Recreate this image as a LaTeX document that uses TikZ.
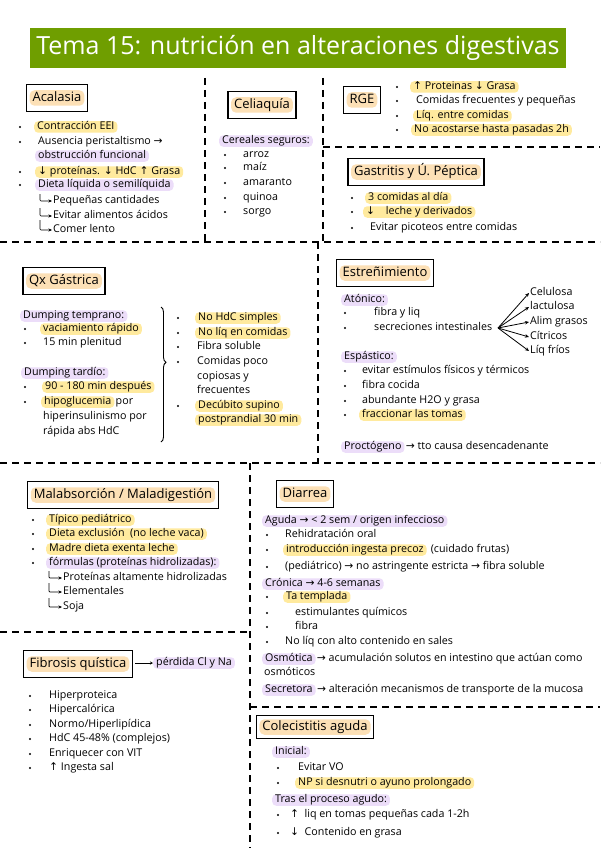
\documentclass[tikz,border=0pt]{standalone}
\usepackage{fontspec}
\setmainfont{Open Sans}
\newfontfamily\symf{DejaVu Sans}
\usetikzlibrary{arrows.meta,fit,decorations.pathreplacing}
\definecolor{bannergreen}{HTML}{6F9E00}
\definecolor{hlY}{HTML}{FFEA9E}
\definecolor{hlP}{HTML}{ECDDF9}
\definecolor{hlO}{HTML}{FCE0B6}
\newcommand\AUp{{\symf ↑}}
\newcommand\ADn{{\symf ↓}}
\newcommand\ARt{{\symf →}}
\tikzset{
 txt/.style={anchor=west, inner xsep=1pt, inner ysep=0.5pt, text height=8pt, text depth=2.5pt, font=\fontsize{10.7}{12}\selectfont},
 hy/.style={txt, fill=hlY, rounded corners=4pt, inner xsep=3pt},
 hp/.style={txt, fill=hlP, rounded corners=4pt, inner xsep=3pt},
 ho/.style={anchor=center, fill=hlO, rounded corners=5pt, inner xsep=3pt, inner ysep=1.5pt, text height=9.5pt, text depth=3pt, font=\fontsize{13}{15}\selectfont},
 tbox/.style={draw, line width=1.4pt, inner xsep=3pt, inner ysep=5.5pt},
 bul/.style={circle, fill=black, inner sep=0pt, minimum size=2.4pt},
 sepline/.style={line width=2.2pt, dash pattern=on 7pt off 5pt},
 hook/.style={-{Stealth[length=3.5pt,width=3pt]}, line width=0.7pt, rounded corners=1pt},
 fanarrow/.style={-{Stealth[length=4pt,width=3.5pt]}, line width=0.8pt},
}
\begin{document}
\begin{tikzpicture}[x=1pt,y=-1pt]
\useasboundingbox (0,0) rectangle (600,848);
\fill[white] (0,0) rectangle (600,848);
% banner
\node[fill=bannergreen, minimum width=536pt, minimum height=40pt, text=white, inner sep=0pt, font=\fontsize{25}{28}\selectfont] (title) at (298,48) {Tema 15: nutrición en alteraciones digestivas};
% separators
\draw[sepline] (205,78) -- (205,243);
\draw[sepline] (323,78) -- (323,243);
\draw[sepline] (323,147) -- (600,147);
\draw[sepline] (0,242) -- (600,242);
\draw[sepline] (318,242) -- (318,463);
\draw[sepline] (0,463) -- (600,463);
\draw[sepline] (250,463) -- (250,848);
\draw[sepline] (0,632) -- (250,632);
\draw[sepline] (250,707) -- (600,707);

% ---------- Acalasia
\node[ho] (acah) at (57,98) {Acalasia};
\node[tbox, fit=(acah)] (acab) {};
\node[bul] (a1b) at (20,127) {};
\node[hy] (a1) at (34,127) {Contracción EEI};
\node[bul] (a2b) at (20,142) {};
\node[txt] (a2) at (37,142) {Ausencia peristaltismo \ARt};
\node[hp] (a3) at (35,156) {obstrucción funcional};
\node[bul] (a4b) at (20,172) {};
\node[hy] (a4) at (35,172) {\ADn\ proteínas. \ADn\ HdC \AUp\ Grasa};
\node[bul] (a5b) at (20,185) {};
\node[hp] (a5) at (35,185) {Dieta líquida o semilíquida};
\node[txt] (a6) at (52,201) {Pequeñas cantidades};
\node[txt] (a7) at (52,216) {Evitar alimentos ácidos};
\node[txt] (a8) at (52,230) {Comer lento};
\coordinate (a6s) at (40,194);
\coordinate (a7s) at (40,208);
\coordinate (a8s) at (40,220);
\draw[hook] (a6s) |- (a6.west);
\draw[hook] (a7s) |- (a7.west);
\draw[hook] (a8s) |- (a8.west);

% ---------- Celiaquia
\node[ho] (celh) at (262,105) {Celiaquía};
\node[tbox, fit=(celh)] (celb) {};
\node[hp] (c1) at (219,141) {Cereales seguros:};
\node[bul] (c2b) at (225,155) {};
\node[txt] (c2) at (242,155) {arroz};
\node[bul] (c3b) at (225,168) {};
\node[txt] (c3) at (242,168) {maíz};
\node[bul] (c4b) at (225,183) {};
\node[txt] (c4) at (242,183) {amaranto};
\node[bul] (c5b) at (225,198) {};
\node[txt] (c5) at (242,198) {quinoa};
\node[bul] (c6b) at (225,212) {};
\node[txt] (c6) at (242,212) {sorgo};

% ---------- RGE
\node[ho] (rgeh) at (362,100) {RGE};
\node[tbox, fit=(rgeh)] (rgeb) {};
\node[bul] (r1b) at (397,87) {};
\node[hy] (r1) at (410,87) {\AUp\ Proteinas \ADn\ Grasa};
\node[bul] (r2b) at (397,101) {};
\node[txt] (r2) at (415,101) {Comidas frecuentes y pequeñas};
\node[bul] (r3b) at (397,116) {};
\node[hy] (r3) at (413,116) {Líq. entre comidas};
\node[bul] (r4b) at (397,130) {};
\node[hy] (r4) at (411,130) {No acostarse hasta pasadas 2h};

% ---------- Gastritis
\node[ho] (gash) at (416,172) {Gastritis y Ú. Péptica};
\node[tbox, fit=(gash)] (gasb) {};
\node[bul] (g1b) at (352,198) {};
\node[hy] (g1) at (365,198) {3 comidas al día};
\node[bul] (g2b) at (352,212) {};
\node[hy] (g2) at (363,212) {\ADn\quad leche y derivados};
\node[bul] (g3b) at (352,228) {};
\node[txt] (g3) at (369,228) {Evitar picoteos entre comidas};

% ---------- Qx Gastrica
\node[ho] (qxh) at (64,281) {Qx Gástrica};
\node[tbox, fit=(qxh)] (qxb) {};
\node[hp] (q1) at (20,316) {Dumping temprano:};
\node[bul] (q2b) at (25,329) {};
\node[hy] (q2) at (40,329) {vaciamiento rápido};
\node[bul] (q3b) at (25,343) {};
\node[txt] (q3) at (42,343) {15 min plenitud};
\node[hp] (q4) at (21,373) {Dumping tardío:};
\node[bul] (q5b) at (25,387) {};
\node[hy] (q5) at (42,387) {90 - 180 min después};
\node[bul] (q6b) at (25,402) {};
\node[hy] (q6) at (41,402) {hipoglucemia};
\node[txt] (q6r) at (q6.east) {por};
\node[txt] (q7) at (42,417) {hiperinsulinismo por};
\node[txt] (q8) at (42,432) {rápida abs HdC};
\coordinate (brt) at (161,307);
\coordinate (brb) at (161,442);
\draw[line width=0.9pt, decorate, decoration={brace, amplitude=5pt, aspect=0.41}] (brt) -- (brb);
\node[bul] (q9b) at (178,318) {};
\node[hy] (q9) at (195,318) {No HdC simples};
\node[bul] (q10b) at (178,333) {};
\node[hy] (q10) at (195,333) {No líq en comidas};
\node[bul] (q11b) at (178,347) {};
\node[txt] (q11) at (196,347) {Fibra soluble};
\node[bul] (q12b) at (178,362) {};
\node[txt] (q12) at (196,362) {Comidas poco};
\node[txt] (q13) at (196,377) {copiosas y};
\node[txt] (q14) at (196,391) {frecuentes};
\node[bul] (q15b) at (178,406) {};
\node[hy] (q15) at (195,406) {Decúbito supino};
\node[hy] (q16) at (195,420) {postprandial 30 min};

% ---------- Estrenimiento
\node[ho] (esth) at (385,273) {Estreñimiento};
\node[tbox, fit=(esth)] (estb) {};
\node[hp] (e1) at (341,300) {Atónico:};
\node[bul] (e2b) at (345,313) {};
\node[txt] (e2) at (373,313) {fibra y liq};
\node[bul] (e3b) at (345,328) {};
\node[txt] (e3) at (373,328) {secreciones intestinales};
\coordinate (efan) at (498,328);
\node[txt] (f1) at (529,293) {Celulosa};
\node[txt] (f2) at (529,307) {lactulosa};
\node[txt] (f3) at (529,322) {Alim grasos};
\node[txt] (f4) at (529,337) {Cítricos};
\node[txt] (f5) at (529,351) {Líq fríos};
\foreach \t in {f1,f2,f3,f4,f5} \draw[fanarrow] (efan) -- (\t.west);
\node[hp] (e4) at (341,357) {Espástico:};
\node[bul] (e5b) at (345,371) {};
\node[txt] (e5) at (361,371) {evitar estímulos físicos y térmicos};
\node[bul] (e6b) at (345,386) {};
\node[txt] (e6) at (361,386) {fibra cocida};
\node[bul] (e7b) at (345,401) {};
\node[txt] (e7) at (361,401) {abundante H2O y grasa};
\node[bul] (e8b) at (345,415) {};
\node[hy] (e8) at (359,415) {fraccionar las tomas};
\node[hp] (e9) at (341,447) {Proctógeno};
\node[txt] (e10) at (e9.east) {\ARt\ tto causa desencadenante};

% ---------- Malabsorcion
\node[ho] (malh) at (123,495) {Malabsorción / Maladigestión};
\node[tbox, fit=(malh)] (malb) {};
\node[bul] (m1b) at (33,520) {};
\node[hy] (m1) at (46,520) {Típico pediátrico};
\node[bul] (m2b) at (33,534) {};
\node[hy] (m2) at (46,534) {Dieta exclusión\ \ (no leche vaca)};
\node[bul] (m3b) at (33,549) {};
\node[hy] (m3) at (46,549) {Madre dieta exenta leche};
\node[bul] (m4b) at (33,563) {};
\node[hp] (m4) at (46,563) {fórmulas\ (proteínas hidrolizadas):};
\node[txt] (m5) at (62,578) {Proteínas altamente hidrolizadas};
\node[txt] (m6) at (62,592) {Elementales};
\node[txt] (m7) at (62,607) {Soja};
\coordinate (m5s) at (49,571);
\coordinate (m6s) at (49,583);
\coordinate (m7s) at (49,598);
\draw[hook] (m5s) |- (m5.west);
\draw[hook] (m6s) |- (m6.west);
\draw[hook] (m7s) |- (m7.west);

% ---------- Diarrea
\node[ho] (diah) at (305,494) {Diarrea};
\node[tbox, fit=(diah)] (diab) {};
\node[hp] (d1) at (262,521) {Aguda \ARt\ < 2 sem / origen infeccioso};
\node[bul] (d2b) at (267,535) {};
\node[txt] (d2) at (284,535) {Rehidratación oral};
\node[bul] (d3b) at (267,550) {};
\node[hy] (d3) at (283,550) {introducción ingesta precoz};
\node[txt] (d3r) at (d3.east) {\ (cuidado frutas)};
\node[bul] (d4b) at (267,567) {};
\node[txt] (d4) at (284,567) {(pediátrico) \ARt\ no astringente estricta \ARt\ fibra soluble};
\node[hp] (d5) at (262,584) {Crónica \ARt\ 4-6 semanas};
\node[bul] (d6b) at (267,597) {};
\node[hy] (d6) at (283,597) {Ta templada};
\node[bul] (d7b) at (267,613) {};
\node[txt] (d7) at (294,613) {estimulantes químicos};
\node[bul] (d8b) at (267,627) {};
\node[txt] (d8) at (294,627) {fibra};
\node[bul] (d9b) at (267,642) {};
\node[txt] (d9) at (284,642) {No líq con alto contenido en sales};
\node[hp] (d10) at (262,659) {Osmótica};
\node[txt] (d11) at (d10.east) {\ARt\ acumulación solutos en intestino que actúan como};
\node[txt] (d12) at (263,673) {osmóticos};
\node[hp] (d13) at (262,690) {Secretora};
\node[txt] (d14) at (d13.east) {\ARt\ alteración mecanismos de transporte de la mucosa};

% ---------- Fibrosis quistica
\node[ho] (fqh) at (78,664) {Fibrosis quística};
\node[tbox, fit=(fqh)] (fqb) {};
\node[hp] (fqp) at (153,663) {pérdida Cl y Na};
\draw[-{Stealth[length=3pt,width=3pt]}, line width=0.6pt] ([xshift=2pt]fqb.east |- fqp.west) -- (fqp.west);
\node[bul] (h1b) at (30,696) {};
\node[txt] (h1) at (48,696) {Hiperproteica};
\node[bul] (h2b) at (30,710) {};
\node[txt] (h2) at (48,710) {Hipercalórica};
\node[bul] (h3b) at (30,725) {};
\node[txt] (h3) at (48,725) {Normo/Hiperlipídica};
\node[bul] (h4b) at (30,739) {};
\node[txt] (h4) at (48,739) {HdC 45-48\% (complejos)};
\node[bul] (h5b) at (30,754) {};
\node[txt] (h5) at (48,754) {Enriquecer con VIT};
\node[bul] (h6b) at (30,768) {};
\node[txt] (h6) at (48,768) {\AUp\ Ingesta sal};

% ---------- Colecistitis
\node[ho] (colh) at (315,727) {Colecistitis aguda};
\node[tbox, fit=(colh), inner ysep=3.5pt] (colb) {};
\node[hp] (k1) at (272,752) {Inicial:};
\node[bul] (k2b) at (278,768) {};
\node[txt] (k2) at (297,768) {Evitar VO};
\node[bul] (k3b) at (278,783) {};
\node[hy] (k3) at (295,783) {NP si desnutri o ayuno prolongado};
\node[hp] (k4) at (272,800) {Tras el proceso agudo:};
\node[bul] (k5b) at (278,815) {};
\node[txt] (k5) at (289,815) {\AUp\ \ liq en tomas pequeñas cada 1-2h};
\node[bul] (k6b) at (278,833) {};
\node[txt] (k6) at (289,833) {\ADn\ \ Contenido en grasa};
\end{tikzpicture}
\end{document}
